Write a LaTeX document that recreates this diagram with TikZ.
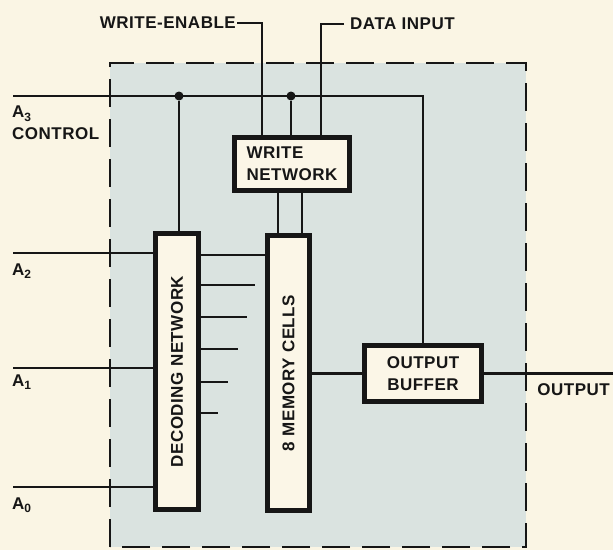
\documentclass[tikz,border=0pt]{standalone}
\usepackage{fontspec}
\setmainfont{Liberation Sans}[LetterSpace=3]
\definecolor{paper}{RGB}{250,245,228}
\definecolor{chip}{RGB}{218,227,224}
\definecolor{boxfill}{RGB}{251,246,231}
\definecolor{ink}{RGB}{22,22,22}
\newcommand\lbl{\fontsize{17}{22}\selectfont\bfseries}
\newcommand\subidx[1]{\raisebox{-3.5pt}{\fontsize{12}{12}\selectfont #1}}
\begin{document}
\begin{tikzpicture}[x=1pt,y=-1pt,
  wire/.style={draw=ink,line width=2.3pt},
  blk/.style={draw=ink,line width=5pt,fill=boxfill,inner sep=0pt,font=\lbl,text=ink},
  lab/.style={inner sep=0pt,font=\lbl,text=ink},
  dot/.style={circle,fill=ink,inner sep=0pt,minimum size=9pt}]
\useasboundingbox (0,0) rectangle (613,550);
\fill[paper] (0,0) rectangle (613,550);
\fill[chip] (110,63) rectangle (526,547);
\draw[ink,line width=2.3pt,dash pattern=on 28pt off 12pt] (110,547) -- (110,63) -- (526,63) -- (526,547) -- cycle;

% blocks
\node[blk,minimum width=115pt,minimum height=53pt,align=left] (wn) at (292,164) {WRITE\\NETWORK};
\node[blk,minimum width=43pt,minimum height=276pt] (dec) at (177,371.5) {};
\node[lab,rotate=90] at (dec.center) {DECODING NETWORK};
\node[blk,minimum width=42pt,minimum height=275pt] (mem) at (288.5,373) {};
\node[lab,rotate=90] at (mem.center) {8 MEMORY CELLS};
\node[blk,minimum width=117pt,minimum height=56pt,align=center] (ob) at (423,373.5) {OUTPUT\\BUFFER};

% labels
\node[lab,anchor=east] (we) at (236,23) {WRITE-ENABLE};
\node[lab,anchor=west] (di) at (350,24) {DATA INPUT};
\node[lab,anchor=north west,align=left] (a3l) at (12,106) {A\subidx{3}\\CONTROL};
\node[lab,anchor=west] (a2l) at (12,271) {A\subidx{2}};
\node[lab,anchor=west] (a1l) at (12,382) {A\subidx{1}};
\node[lab,anchor=west] (a0l) at (12,505) {A\subidx{0}};
\node[lab,anchor=east] (outl) at (610,390) {OUTPUT};

% junctions
\node[dot] (j1) at (179,96) {};
\node[dot] (j2) at (291,96) {};

% A3 control bus
\coordinate (a3in) at (13,96);
\draw[wire] (a3in) -| (ob.north);
\draw[wire] (j1) -- (j1 |- dec.north);
\draw[wire] (j2) -- (j2 |- wn.north);

% write-enable and data input
\draw[wire] ([xshift=1pt]we.east) -| ([xshift=-30pt]wn.north);
\draw[wire] ([xshift=-6pt]di.west) -| ([xshift=29pt]wn.north);

% write network to memory
\draw[wire] ([xshift=-14pt]wn.south) -- ([xshift=-14pt]wn.south |- mem.north);
\draw[wire] ([xshift=10pt]wn.south) -- ([xshift=10pt]wn.south |- mem.north);

% address inputs
\coordinate (a2in) at (13,253);
\coordinate (a1in) at (13,368);
\coordinate (a0in) at (13,487);
\draw[wire] (a2in) -- (a2in -| dec.west);
\draw[wire] (a1in) -- (a1in -| dec.west);
\draw[wire] (a0in) -- (a0in -| dec.west);

% decoder outputs
\coordinate (o1) at (230,255);
\draw[wire] (o1 -| dec.east) -- (o1 -| mem.west);
\foreach \yy/\xx in {285/255,317/247,349/238,382/228,413/218}{
  \coordinate (s\yy) at (\xx,\yy);
  \draw[wire] (s\yy -| dec.east) -- (s\yy);
}

% memory to buffer, buffer to output
\draw[wire] (mem.east |- ob.west) -- (ob.west);
\coordinate (outend) at (613,372);
\draw[wire] (ob.east) -- (ob.east -| outend);
\end{tikzpicture}
\end{document}
